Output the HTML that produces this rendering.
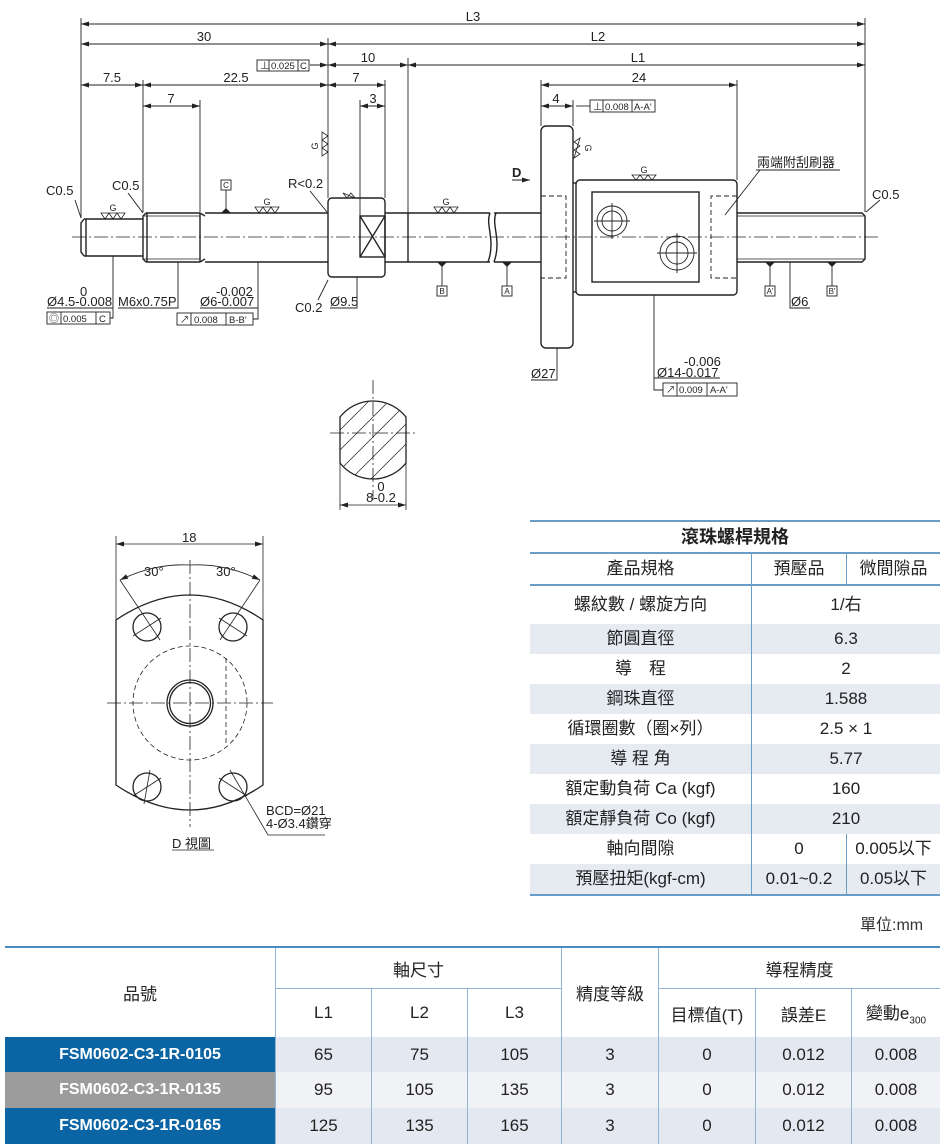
<!DOCTYPE html>
<html><head><meta charset="utf-8"><style>
body{margin:0;width:948px;height:1148px;background:#fff;position:relative;overflow:hidden;font-family:"Liberation Sans","Noto Sans CJK TC",sans-serif}
svg{position:absolute;left:0;top:0}
table{position:absolute;border-collapse:collapse;font-family:"Liberation Sans","Noto Sans CJK TC",sans-serif;color:#222}
#spec{left:530px;top:520px;width:410px;font-size:17px}
#spec td{text-align:center;padding:0;height:30px;line-height:30px}
#spec tr.a td{background:#e6ebf2}
#spec .bl{border-left:1.5px solid #6a9cc8}
#spec .bt{border-top:2px solid #6a9cc8}
#prod{left:5px;top:946px;width:935px;font-size:17px}
#prod td{text-align:center;padding:0;border-left:1px solid #8fb4d6}
#prod tr.h td{background:#fff}
#prod td.n{color:#fff;font-weight:bold;font-size:16px;border-left:none}
#prod td.d1{background:#e4e9f1}
#prod td.d2{background:#f0f2f6}
</style></head><body>
<svg width="948" height="1148" viewBox="0 0 948 1148" font-family="Liberation Sans, Noto Sans CJK TC, sans-serif" font-size="13" fill="none" stroke="#222" stroke-width="1">
<defs>
<marker id="ae" markerWidth="8" markerHeight="6" refX="8" refY="3" orient="auto" markerUnits="userSpaceOnUse"><path d="M0,0.5 L8,3 L0,5.5z" fill="#222" stroke="none"/></marker>
<marker id="as" markerWidth="8" markerHeight="6" refX="0" refY="3" orient="auto" markerUnits="userSpaceOnUse"><path d="M8,0.5 L0,3 L8,5.5z" fill="#222" stroke="none"/></marker>
<clipPath id="c2"><path d="M340,417 A42,42 0 0 1 406,417 L406,463 A42,42 0 0 1 340,463 Z"/></clipPath>
</defs>
<g stroke-width="0.9">
<line x1="81" y1="18" x2="81" y2="218"/><line x1="328" y1="38" x2="328" y2="198"/><line x1="408" y1="58" x2="408" y2="213"/>
<line x1="865" y1="18" x2="865" y2="212"/><line x1="143" y1="80" x2="143" y2="212"/><line x1="200" y1="100" x2="200" y2="212"/>
<line x1="385" y1="80" x2="385" y2="198"/><line x1="360" y1="100" x2="360" y2="216"/>
<line x1="541" y1="80" x2="541" y2="126"/><line x1="737" y1="80" x2="737" y2="180"/><line x1="573" y1="100" x2="573" y2="126"/>
</g>
<g stroke-width="0.9">
<line x1="81" y1="24" x2="865" y2="24" marker-start="url(#as)" marker-end="url(#ae)"/>
<line x1="81" y1="44" x2="328" y2="44" marker-start="url(#as)" marker-end="url(#ae)"/>
<line x1="328" y1="44" x2="865" y2="44" marker-start="url(#as)" marker-end="url(#ae)"/>
<line x1="328" y1="65" x2="408" y2="65" marker-start="url(#as)" marker-end="url(#ae)"/>
<line x1="408" y1="65" x2="865" y2="65" marker-start="url(#as)" marker-end="url(#ae)"/>
<line x1="81" y1="85" x2="143" y2="85" marker-start="url(#as)" marker-end="url(#ae)"/>
<line x1="143" y1="85" x2="328" y2="85" marker-start="url(#as)" marker-end="url(#ae)"/>
<line x1="143" y1="106" x2="200" y2="106" marker-start="url(#as)" marker-end="url(#ae)"/>
<line x1="328" y1="85" x2="385" y2="85" marker-start="url(#as)" marker-end="url(#ae)"/>
<line x1="360" y1="106" x2="385" y2="106" marker-start="url(#as)" marker-end="url(#ae)"/>
<line x1="541" y1="85" x2="737" y2="85" marker-start="url(#as)" marker-end="url(#ae)"/>
<line x1="541" y1="106" x2="573" y2="106" marker-start="url(#as)" marker-end="url(#ae)"/>
<line x1="310" y1="65" x2="328" y2="65" marker-end="url(#ae)"/>
<line x1="576" y1="106" x2="590" y2="106"/>
</g>
<g fill="#222" stroke="none" text-anchor="middle">
<text x="473" y="21">L3</text><text x="204" y="41">30</text><text x="598" y="41">L2</text>
<text x="368" y="62">10</text><text x="638" y="62">L1</text><text x="112" y="82">7.5</text>
<text x="236" y="82">22.5</text><text x="171" y="103">7</text><text x="356" y="82">7</text>
<text x="373" y="103">3</text><text x="639" y="82">24</text><text x="556" y="103">4</text>
</g>
<g stroke-width="0.9">
<rect x="257" y="60" width="52" height="11"/><line x1="269" y1="60" x2="269" y2="71"/><line x1="298" y1="60" x2="298" y2="71"/>
<rect x="590" y="100" width="65" height="12"/><line x1="603" y1="100" x2="603" y2="112"/><line x1="632" y1="100" x2="632" y2="112"/>
<rect x="47" y="312" width="63" height="12"/><line x1="61" y1="312" x2="61" y2="324"/><line x1="96" y1="312" x2="96" y2="324"/>
<rect x="177" y="313" width="76" height="12"/><line x1="191" y1="313" x2="191" y2="325"/><line x1="226" y1="313" x2="226" y2="325"/>
<rect x="663" y="383" width="74" height="13"/><line x1="677" y1="383" x2="677" y2="396"/><line x1="707" y1="383" x2="707" y2="396"/>
</g>
<g fill="#222" stroke="none" font-size="9.5">
<text x="260" y="69">⊥</text><text x="271" y="69">0.025</text><text x="300" y="69">C</text>
<text x="593" y="110">⊥</text><text x="605" y="110">0.008</text><text x="634" y="110">A-A'</text>
<text x="49" y="322" font-size="10">◎</text><text x="63" y="322">0.005</text><text x="99" y="322">C</text>
<text x="180" y="323">↗</text><text x="194" y="323">0.008</text><text x="229" y="323">B-B'</text>
<text x="666" y="393">↗</text><text x="679" y="393">0.009</text><text x="710" y="393">A-A'</text>
</g>
<line x1="72" y1="237" x2="878" y2="237" stroke-width="0.8" stroke-dasharray="14,3,2,3"/>
<g stroke-width="1.4">
<path d="M84,219 L143,219 M84,256 L143,256 M84,219 L81,223 L81,252 L84,256 M86,219 L86,256"/>
<path d="M146,213 L200,213 M146,262 L200,262 M146,213 L143,216 L143,259 L146,262 M147,213 L147,262"/>
<path d="M144,216 L200,216 M144,259 L200,259" stroke-width="0.8"/>
<path d="M200,213 L205,216 M200,262 L205,259 M200,213 L200,262 M205,213 L328,213 M205,262 L328,262"/>
<rect x="328" y="198" width="57" height="79" rx="4"/>
<rect x="360" y="216" width="25" height="41"/>
<path d="M360,216 L385,257 M385,216 L360,257"/>
<path d="M385,213 L490,213 M385,262 L490,262 M408,213 L408,262"/>
<path d="M490,213 C485,225 496,240 488,262 M496,213 C491,225 502,240 494,262"/>
<path d="M494,213 L541,213 M494,262 L541,262"/>
<rect x="541" y="126" width="32" height="222" rx="5"/>
<rect x="576" y="180" width="161" height="115" rx="4"/>
<line x1="573" y1="183" x2="576" y2="183"/><line x1="573" y1="292" x2="576" y2="292"/>
<rect x="592" y="192" width="107" height="90"/>
<path d="M737,213 L862,213 L865,216 L865,259 L862,262 L737,262"/>
<path d="M737,216 L865,216 M737,259 L865,259" stroke-width="0.8"/>
</g>
<g stroke-width="0.9">
<circle cx="612" cy="221" r="15"/><circle cx="612" cy="221" r="10"/>
<circle cx="677" cy="253" r="17"/><circle cx="677" cy="253" r="11"/>
<path d="M594,221 L630,221 M612,203 L612,239 M657,253 L697,253 M677,233 L677,273"/>
<path d="M541,196 L566,196 L566,278 L541,278 M737,196 L711,196 L711,278 L737,278" stroke-dasharray="5,3"/>
</g>
<g stroke-width="0.9">
<path d="M113,256 L113,318 L110,318"/><path d="M178,262 L178,308 L118,308"/><path d="M258,262 L258,319 L253,319 M200,308 L258,308"/>
<path d="M357,277 L357,308 L330,308"/><path d="M318,300 L328,280"/>
<path d="M47,308 L113,308"/>
<path d="M442,262 L442,286"/><rect x="437" y="286" width="10" height="10"/>
<path d="M507,262 L507,286"/><rect x="502" y="286" width="10" height="10"/>
<path d="M770,262 L770,286"/><rect x="765" y="286" width="10" height="10"/>
<path d="M832,262 L832,286"/><rect x="827" y="286" width="10" height="10"/>
<path d="M790,262 L790,308 L810,308"/>
<path d="M557,348 L557,380 L531,380"/>
<path d="M654,295 L654,390 L663,390 M654,378 L720,378"/>
<path d="M756,170 L840,170 M760,170 L725,215"/>
<path d="M226,190 L226,212"/><rect x="221" y="180" width="10" height="10"/>
<path d="M75,200 L81,218"/><path d="M128,193 L143,213"/><path d="M880,200 L866,212"/><path d="M310,191 L327,212"/>
<path d="M512,180 L530,180" marker-end="url(#ae)"/>
</g>
<g fill="#222" stroke="none">
<path d="M437,262 L442,267 L447,262z M502,262 L507,267 L512,262z M765,262 L770,267 L775,262z M827,262 L832,267 L837,262z M221,213 L226,208 L231,213z"/>
</g>
<g fill="#222" stroke="none" font-size="8" text-anchor="middle">
<text x="442" y="294">B</text><text x="507" y="294">A</text><text x="770" y="294">A'</text><text x="832" y="294">B'</text><text x="226" y="188">C</text>
</g>
<g stroke-width="0.8">
<path d="M101,213 L105,219 L109,213 L113,219 L117,213 L121,219 L125,213z"/>
<path d="M255,207 L259,213 L263,207 L267,213 L271,207 L275,213 L279,207z"/>
<path d="M434,207 L438,213 L442,207 L446,213 L450,207 L454,213 L458,207z"/>
<path d="M632,175 L636,180 L640,175 L644,180 L648,175 L652,180 L656,175z"/>
<path d="M343,193 L347,198 L351,193 L355,198z"/>
<path d="M322,132 L328,136 L322,140 L328,144 L322,148 L328,152 L322,156z"/>
<path d="M580,138 L574,142 L580,146 L574,150 L580,154 L574,158z"/>
</g>
<g fill="#222" stroke="none" font-size="9" text-anchor="middle">
<text x="113" y="211">G</text><text x="267" y="205">G</text><text x="446" y="205">G</text><text x="644" y="173">G</text>
<text transform="translate(318,146) rotate(-90)">G</text><text transform="translate(585,148) rotate(90)">G</text>
</g>
<g fill="#222" stroke="none">
<text x="46" y="195">C0.5</text><text x="112" y="190">C0.5</text><text x="872" y="199">C0.5</text><text x="288" y="188">R&lt;0.2</text>
<text x="80" y="296">0</text><text x="47" y="306">Ø4.5-0.008</text><text x="118" y="306">M6x0.75P</text>
<text x="216" y="296">-0.002</text><text x="200" y="306">Ø6-0.007</text><text x="295" y="312">C0.2</text><text x="330" y="306">Ø9.5</text>
<text x="791" y="306">Ø6</text><text x="531" y="378">Ø27</text><text x="684" y="366">-0.006</text><text x="657" y="377">Ø14-0.017</text>
<text x="757" y="167">兩端附刮刷器</text><text x="512" y="177" font-weight="bold">D</text>
</g>
<path d="M340,417 A42,42 0 0 1 406,417 L406,463 A42,42 0 0 1 340,463 Z" stroke-width="1.3"/>
<g clip-path="url(#c2)" stroke-width="0.7">
<path d="M300,470 L380,390 M312,478 L392,398 M324,486 L404,406 M336,494 L416,414 M348,502 L428,422 M360,510 L440,430 M288,462 L368,382"/>
</g>
<g stroke-width="0.8">
<line x1="373" y1="380" x2="373" y2="500" stroke-dasharray="14,3,2,3"/>
<line x1="330" y1="433" x2="415" y2="433" stroke-dasharray="14,3,2,3"/>
<line x1="340" y1="463" x2="340" y2="510"/><line x1="406" y1="463" x2="406" y2="510"/>
<line x1="340" y1="505" x2="406" y2="505" marker-start="url(#as)" marker-end="url(#ae)"/>
</g>
<g fill="#222" stroke="none" text-anchor="middle"><text x="381" y="491">0</text><text x="381" y="502">8-0.2</text></g>
<g stroke-width="1.3">
<path d="M116,620 Q190,570 263,620 L263,785 Q190,835 116,785 Z"/>
<circle cx="190" cy="703" r="23"/><circle cx="190" cy="703" r="20.5"/>
<circle cx="147" cy="627" r="14"/><circle cx="233" cy="627" r="14"/>
<circle cx="147" cy="787" r="14"/><circle cx="233" cy="787" r="14"/>
</g>
<g stroke-width="0.8">
<circle cx="190" cy="703" r="57" stroke-dasharray="5,3"/>
<line x1="226" y1="658" x2="226" y2="745" stroke-dasharray="5,3"/>
<line x1="107" y1="703" x2="273" y2="703" stroke-dasharray="14,3,2,3"/>
<line x1="190" y1="560" x2="190" y2="827" stroke-dasharray="14,3,2,3"/>
<path d="M120,580 L160,640 M260,580 L220,640 M133,636 L161,618 M219,618 L247,636 M133,796 L161,778 M219,778 L247,796 M150,770 L144,804 M230,770 L268,835 L325,835"/>
<line x1="116" y1="544" x2="263" y2="544" marker-start="url(#as)" marker-end="url(#ae)"/>
<line x1="116" y1="536" x2="116" y2="620"/><line x1="263" y1="536" x2="263" y2="620"/>
<path d="M120,580 Q155,563 190,565" marker-start="url(#as)"/><path d="M260,580 Q225,563 190,565" marker-start="url(#as)"/>
<line x1="172" y1="850" x2="214" y2="850"/>
</g>
<g fill="#222" stroke="none">
<text x="182" y="542">18</text><text x="144" y="576">30°</text><text x="216" y="576">30°</text>
<text x="266" y="815">BCD=Ø21</text><text x="266" y="828">4-Ø3.4鑽穿</text><text x="172" y="848">D 視圖</text>
<text x="860" y="930" font-size="16" fill="#333">單位:mm</text>
</g>
</svg>

<table id="spec">
<tr><td colspan="3" class="bt" style="font-weight:bold;font-size:18px">滾珠螺桿規格</td></tr>
<tr><td class="bt" style="width:221px">產品規格</td><td class="bt bl" style="width:94px">預壓品</td><td class="bt bl">微間隙品</td></tr>
<tr><td class="bt" style="height:38px;line-height:38px">螺紋數 / 螺旋方向</td><td class="bt bl" colspan="2">1/右</td></tr>
<tr class="a"><td>節圓直徑</td><td class="bl" colspan="2">6.3</td></tr>
<tr><td>導　程</td><td class="bl" colspan="2">2</td></tr>
<tr class="a"><td>鋼珠直徑</td><td class="bl" colspan="2">1.588</td></tr>
<tr><td>循環圈數（圈×列）</td><td class="bl" colspan="2">2.5 × 1</td></tr>
<tr class="a"><td>導 程 角</td><td class="bl" colspan="2">5.77</td></tr>
<tr><td>額定動負荷 Ca (kgf)</td><td class="bl" colspan="2">160</td></tr>
<tr class="a"><td>額定靜負荷 Co (kgf)</td><td class="bl" colspan="2">210</td></tr>
<tr><td>軸向間隙</td><td class="bl">0</td><td class="bl">0.005以下</td></tr>
<tr class="a"><td style="border-bottom:2px solid #6a9cc8">預壓扭矩(kgf-cm)</td><td class="bl" style="border-bottom:2px solid #6a9cc8">0.01~0.2</td><td class="bl" style="border-bottom:2px solid #6a9cc8">0.05以下</td></tr>
</table>

<table id="prod">
<tr class="h"><td rowspan="2" style="width:270px;border-left:none;border-top:2px solid #4a8cc0">品號</td><td colspan="3" style="height:40px;border-top:2px solid #4a8cc0;border-bottom:1px solid #8fb4d6">軸尺寸</td><td rowspan="2" style="width:96px;border-top:2px solid #4a8cc0">精度等級</td><td colspan="3" style="border-top:2px solid #4a8cc0;border-bottom:1px solid #8fb4d6">導程精度</td></tr>
<tr class="h"><td style="width:95px;height:48px">L1</td><td style="width:95px">L2</td><td style="width:93px">L3</td><td style="width:96px">目標值(T)</td><td style="width:95px">誤差E</td><td>變動e<sub style="font-size:10px">300</sub></td></tr>
<tr><td class="n" style="background:#0b64a3;height:35px">FSM0602-C3-1R-0105</td><td class="d1">65</td><td class="d1">75</td><td class="d1">105</td><td class="d1">3</td><td class="d1">0</td><td class="d1">0.012</td><td class="d1">0.008</td></tr>
<tr><td class="n" style="background:#9c9c9c;height:36px">FSM0602-C3-1R-0135</td><td class="d2">95</td><td class="d2">105</td><td class="d2">135</td><td class="d2">3</td><td class="d2">0</td><td class="d2">0.012</td><td class="d2">0.008</td></tr>
<tr><td class="n" style="background:#0b64a3;height:36px">FSM0602-C3-1R-0165</td><td class="d1">125</td><td class="d1">135</td><td class="d1">165</td><td class="d1">3</td><td class="d1">0</td><td class="d1">0.012</td><td class="d1">0.008</td></tr>
</table>
</body></html>
